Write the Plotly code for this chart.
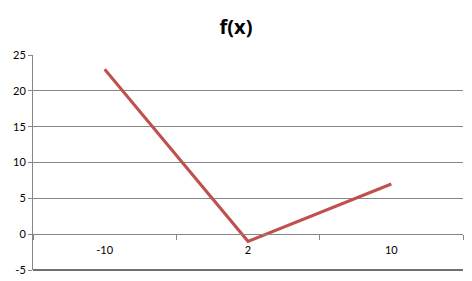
import plotly.graph_objects as go

categories = ["-10", "2", "10"]
values = [23, -1, 7]
y_ticks = [-5, 0, 5, 10, 15, 20, 25]

y_lo, y_hi = -5, 25

fig = go.Figure()
fig.add_trace(go.Scatter(
    x=categories, y=values, mode="lines",
    line=dict(color="#C0504D", width=3),
    showlegend=False,
))

grid = "#868686"
fig.update_layout(
    width=472, height=281,
    margin=dict(l=33, r=9, t=55, b=11, autoexpand=False),
    paper_bgcolor="white", plot_bgcolor="white",
    font=dict(family="Lato, Open Sans, sans-serif", size=11, color="black"),
    title=dict(text="<b>f(x)</b>", x=0.5, xanchor="center",
               y=(281 - 27) / 281, yanchor="middle", yref="container",
               font=dict(size=20, family="Open Sans, Lato, sans-serif", color="black")),
    xaxis=dict(
        type="category", range=[-0.5, 2.5],
        anchor="free", position=(0 - y_lo) / (y_hi - y_lo), automargin=False,
        showline=True, linecolor=grid, linewidth=1,
        ticks="outside", ticklen=5, tickcolor=grid, tickson="boundaries",
        ticklabelstandoff=6,
        showgrid=False, zeroline=False,
        tickfont=dict(size=11),
    ),
    yaxis=dict(
        range=[y_lo, y_hi], tickvals=y_ticks, ticktext=[str(v) for v in y_ticks],
        automargin=False,
        showline=True, linecolor=grid, linewidth=1,
        ticks="outside", ticklen=4, tickcolor=grid,
        showgrid=True, gridcolor=grid, gridwidth=1,
        zeroline=False, tickfont=dict(size=11),
    ),
    # bottom gridline at -5 (plotly skips gridlines lying on the plot edge)
    shapes=[dict(type="line", xref="paper", x0=0, x1=1, yref="paper", y0=0, y1=0,
                 line=dict(color="#707070", width=2), layer="above")],
)

fig.write_html("out.html")
